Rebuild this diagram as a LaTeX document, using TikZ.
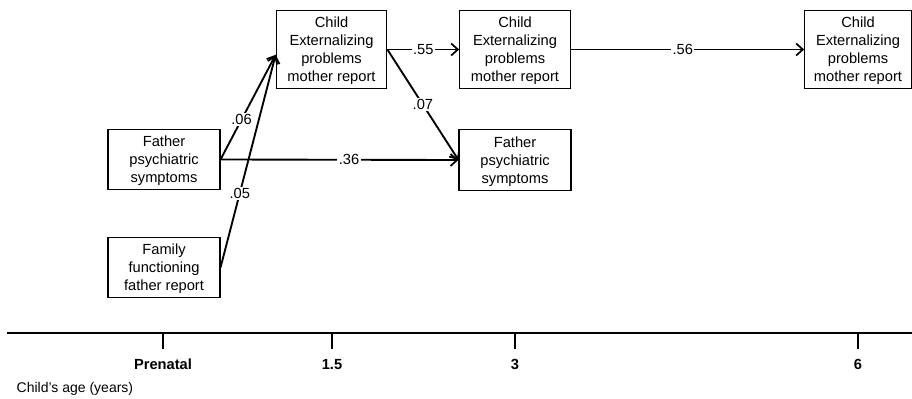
\documentclass[tikz,border=0pt]{standalone}
\usepackage{fontspec}
\setmainfont{Liberation Sans}
\usetikzlibrary{arrows.meta}

\begin{document}
\begin{tikzpicture}[x=0.75pt, y=-0.75pt,
        box/.style={draw, line width=0.8pt, align=center, inner sep=2pt, text depth=0pt, font=\fontsize{11}{13.5}\selectfont},
        wide/.style={box, minimum width=83pt, minimum height=58pt},
        small/.style={box, minimum width=84pt, minimum height=45.5pt},
        path/.style={line width=1.4pt, -{Straight Barb[length=5pt, width=9pt, line width=1.3pt]}},
        coef/.style={fill=white, inner sep=1pt, font=\fontsize{11}{13}\selectfont},
        agelabel/.style={anchor=base, font=\bfseries\fontsize{11}{13}\selectfont}]
        \useasboundingbox (0, 0) rectangle (912, 399);

        \node[wide] (cext1) at (331.5, 49.5) {Child\\Externalizing\\problems\\mother report};
        \node[wide] (cext2) at (515, 49.5) {Child\\Externalizing\\problems\\mother report};
        \node[wide, minimum width=80pt] (cext3) at (858, 49.5) {Child\\Externalizing\\problems\\mother report};
        \node[small] (fpsy1) at (164, 159.5) {Father\\psychiatric\\symptoms};
        \node[small] (famf) at (164, 267.5) {Family\\functioning\\father report};
        \node[small] (fpsy2) at (515, 160) {Father\\psychiatric\\symptoms};
        \coordinate (cin) at ([yshift=-4pt]cext1.west);

        \draw[path] (fpsy1.east) -- (cin) node[coef, pos=0.38] {.06};
        \draw[path] (famf.east) -- (cin) node[coef, pos=0.35] {.05};
        \draw[path] (fpsy1.east) -- (fpsy2.west) node[coef, pos=0.54] {.36};
        \draw[path] (cext1.east) -- (cext2.west) node[coef, midway] {.55};
        \draw[path] (cext1.east) -- (fpsy2.west) node[coef, midway] {.07};
        \draw[path] (cext2.east) -- (cext3.west) node[coef, pos=0.48] {.56};

        % time axis
        \draw[line width=1.5pt] (7, 333) -- (912, 333);
        \foreach \x/\lab in {163/Prenatal, 332/1.5, 515/3, 858/6} {
            \draw[line width=1.5pt] (\x, 333) -- (\x, 349);
            \node[agelabel] (age\x) at (\x, 369) {\lab};
        }
        \node[anchor=base west, font=\fontsize{10.5}{12}\selectfont] (agecap) at (12, 392) {Child's age (years)};
    \end{tikzpicture}
\end{document}
